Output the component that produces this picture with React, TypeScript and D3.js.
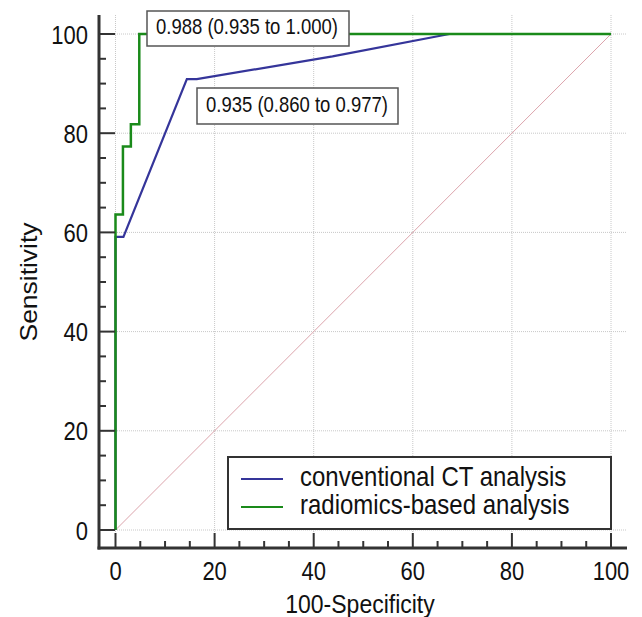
import React from 'react';
import * as d3 from 'd3';

// ROC points: [100-specificity, sensitivity]
const conventionalFpr = [0, 0, 1.6, 14.4, 16.4, 43.8, 67.4, 100];
const conventionalTpr = [0, 59.1, 59.1, 90.9, 90.9, 95.5, 100, 100];
const radiomicsFpr = [0, 0, 1.5, 1.5, 3.1, 3.1, 4.8, 4.8, 100];
const radiomicsTpr = [0, 63.6, 63.6, 77.3, 77.3, 81.8, 81.8, 100, 100];

const seriesNames = ['conventional CT analysis', 'radiomics-based analysis'];
const seriesColors = ['#35359a', '#1a8a1a'];
const aucLabels = ['0.935 (0.860 to 0.977)', '0.988 (0.935 to 1.000)'];

const majorTicks = [0, 20, 40, 60, 80, 100];
const minorTicks = d3.range(0, 101, 5);

const W = 642;
const H = 617;
const font = '"Liberation Sans", Arial, sans-serif';
const STRETCH = 1.15; // the source picture is a bit taller than wide

type TProps = {
  x: number;
  y: number;
  size: number;
  anchor?: string;
  rotate?: number;
  children: React.ReactNode;
};

const T = ({ x, y, size, anchor = 'start', rotate = 0, children }: TProps) => (
  <text
    transform={`translate(${x},${y}) scale(1,${STRETCH}) rotate(${rotate})`}
    fontFamily={font}
    fontSize={size}
    fill="#111"
    textAnchor={anchor}
  >
    {children}
  </text>
);

const App = () => {
  const x = d3.scaleLinear().domain([0, 100]).range([115.5, 611]);
  const y = d3.scaleLinear().domain([0, 100]).range([530, 34]);

  const axisX = 99; // left axis line
  const axisY = 548; // bottom axis line
  const topY = 15;
  const rightX = 627;

  const line = d3
    .line<[number, number]>()
    .x(d => x(d[0]))
    .y(d => y(d[1]));

  const conv: [number, number][] = conventionalFpr.map((v, i) => [v, conventionalTpr[i]]);
  const radio: [number, number][] = radiomicsFpr.map((v, i) => [v, radiomicsTpr[i]]);

  return (
    <svg width={W} height={H} style={{ position: 'absolute', left: 0, top: 0, background: '#fff' }}>
      {/* grid */}
      <g stroke="#c8c8c8" strokeWidth={1} strokeDasharray="1,1">
        {majorTicks.map(t => (
          <line key={'gx' + t} x1={x(t)} x2={x(t)} y1={topY} y2={axisY} />
        ))}
        {majorTicks.map(t => (
          <line key={'gy' + t} x1={axisX} x2={rightX} y1={y(t)} y2={y(t)} />
        ))}
      </g>

      {/* reference diagonal */}
      <line x1={x(0)} y1={y(0)} x2={x(100)} y2={y(100)} stroke="#dca4ac" strokeWidth={1} />

      {/* curves */}
      <path d={line(conv) || ''} fill="none" stroke={seriesColors[0]} strokeWidth={2.2} />
      <path d={line(radio) || ''} fill="none" stroke={seriesColors[1]} strokeWidth={2.5} />

      {/* axes */}
      <g stroke="#333" strokeWidth={2}>
        {minorTicks.map(t => (
          <line key={'ty' + t} x1={axisX} x2={axisX + (t % 20 === 0 ? 16 : 7)} y1={y(t)} y2={y(t)} />
        ))}
        {minorTicks.map(t => (
          <line key={'tx' + t} x1={x(t)} x2={x(t)} y1={axisY} y2={axisY - (t % 20 === 0 ? 15 : 7)} />
        ))}
      </g>
      <line x1={axisX} x2={axisX} y1={topY} y2={axisY + 1.5} stroke="#333" strokeWidth={3} />
      <line x1={axisX - 1.5} x2={rightX} y1={axisY} y2={axisY} stroke="#333" strokeWidth={3} />

      {majorTicks.map(t => (
        <T key={'ly' + t} x={88} y={y(t) + 9.5} size={22} anchor="end">
          {t}
        </T>
      ))}
      {majorTicks.map(t => (
        <T key={'lx' + t} x={x(t)} y={580} size={22} anchor="middle">
          {t}
        </T>
      ))}
      <T x={360} y={613} size={23} anchor="middle">
        100-Specificity
      </T>
      <T x={37} y={282} size={23} anchor="middle" rotate={-90}>
        Sensitivity
      </T>

      {/* legend */}
      <rect x={228} y={457} width={383} height={72} fill="#fff" stroke="#333" strokeWidth={2} />
      {seriesNames.map((name, i) => (
        <g key={name}>
          <line x1={241} x2={283} y1={479 + i * 28} y2={479 + i * 28} stroke={seriesColors[i]} strokeWidth={2} />
          <T x={300} y={486 + i * 27.5} size={24}>
            {name}
          </T>
        </g>
      ))}

      {/* AUC annotations */}
      <rect x={147} y={11} width={202} height={35} fill="#fff" stroke="#555" strokeWidth={1.5} />
      <T x={156} y={33.5} size={18.5}>
        {aucLabels[1]}
      </T>
      <rect x={197} y={88} width={201} height={36} fill="#fff" stroke="#555" strokeWidth={1.5} />
      <T x={206} y={112} size={18.5}>
        {aucLabels[0]}
      </T>
    </svg>
  );
};

export default App;
